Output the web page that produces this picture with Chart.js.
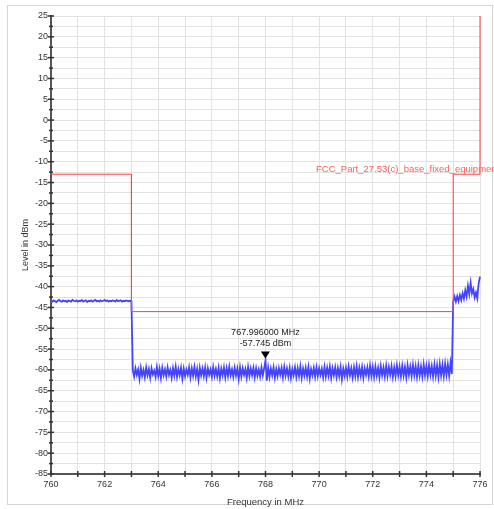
<!DOCTYPE html>
<html>
<head>
<meta charset="utf-8">
<script src="https://cdn.jsdelivr.net/npm/chart.js@4.4.1/dist/chart.umd.min.js"></script>
<style>
  html, body { margin: 0; padding: 0; background: #fff; }
  #wrap { width: 494px; height: 509px; position: relative; }
</style>
</head>
<body>
<div id="wrap"><canvas id="spectrum"></canvas></div>
<script>
// analyzer sweep grid (MHz)
const sweepStart = 760;
const sweepStep = 0.05;

// trace levels in dBm, 760.00 - 763.00 MHz
const levelsLowBand = [
    -43.4, -43.6, -43.3, -43.5, -43.7, -43.4, -43.2, -43.5, -43.6, -43.3,
    -43.5, -43.4, -43.7, -43.3, -43.5, -43.6, -43.2, -43.4, -43.5, -43.3,
    -43.6, -43.4, -43.5, -43.2, -43.6, -43.4, -43.3, -43.7, -43.4, -43.5,
    -43.3, -43.6, -43.4, -43.2, -43.5, -43.4, -43.6, -43.3, -43.5, -43.4,
    -43.2, -43.5, -43.3, -43.6, -43.4, -43.5, -43.3, -43.4, -43.6, -43.2,
    -43.5, -43.4, -43.3, -43.6, -43.4, -43.5, -43.3, -43.4, -43.5, -43.4,
    -43.5
];
// 763.05 - 774.95 MHz
const levelsInBand = [
    -60.1, -61.6, -59.6, -61.2, -59.9, -62.2, -59.5, -61.4, -60.0, -61.8,
    -59.4, -61.3, -59.8, -61.9, -59.6, -61.1, -60.2, -61.7, -59.3, -61.5,
    -59.7, -62.0, -59.5, -61.3, -59.9, -61.6, -59.4, -61.2, -60.0, -61.9,
    -59.6, -61.4, -59.2, -61.7, -59.8, -61.3, -59.5, -62.1, -59.7, -61.5,
    -59.9, -61.2, -59.4, -61.8, -59.6, -61.4, -59.3, -61.6, -59.8, -62.4,
    -59.5, -61.3, -59.7, -61.5, -59.4, -61.9, -59.6, -61.2, -59.9, -61.7,
    -59.3, -61.4, -59.8, -61.6, -59.5, -62.0, -59.7, -61.3, -59.4, -61.8,
    -59.6, -61.5, -59.2, -61.3, -59.9, -61.7, -59.5, -61.4, -59.7, -62.2,
    -59.4, -61.6, -59.6, -61.2, -59.8, -61.9, -59.3, -61.5, -59.7, -61.3,
    -59.5, -61.8, -59.6, -61.4, -59.9, -61.6, -59.4, -61.3, -59.6, -57.745,
    -62.6, -59.5, -61.7, -59.7, -61.3, -59.4, -61.9, -59.8, -61.5, -59.6,
    -61.2, -59.5, -61.8, -59.3, -61.4, -59.7, -61.6, -59.5, -62.0, -59.8,
    -61.3, -59.4, -61.7, -59.6, -61.5, -59.2, -61.9, -59.7, -61.4, -59.5,
    -61.6, -59.3, -62.1, -59.8, -61.3, -59.5, -61.7, -59.4, -61.5, -59.6,
    -61.2, -59.7, -61.8, -59.3, -61.6, -59.5, -61.4, -59.2, -61.9, -59.6,
    -61.3, -59.4, -61.7, -59.6, -61.5, -59.3, -62.2, -59.7, -61.4, -59.5,
    -61.6, -59.2, -61.3, -59.6, -61.8, -59.4, -61.5, -59.1, -61.7, -59.5,
    -61.4, -59.3, -61.9, -59.6, -61.2, -59.4, -61.6, -59.0, -61.5, -59.3,
    -61.7, -59.2, -61.4, -59.5, -61.8, -59.1, -61.3, -59.4, -61.6, -59.0,
    -61.5, -59.3, -61.2, -59.1, -61.7, -59.4, -61.5, -58.9, -61.3, -59.2,
    -61.6, -59.0, -61.4, -59.3, -61.8, -58.9, -61.2, -59.2, -61.5, -58.8,
    -61.3, -59.1, -61.7, -58.9, -61.4, -59.2, -61.6, -58.7, -61.3, -59.0,
    -61.5, -58.8, -61.2, -59.1, -61.6, -58.7, -61.4, -58.9, -61.7, -58.6,
    -61.3, -58.8, -61.5, -58.5, -61.2, -58.7, -61.4, -58.3, -61.0
];
// 775.00 - 776.00 MHz
const levelsHighBand = [
    -43.7, -42.4, -43.6, -42.3, -43.5, -42.0, -43.2, -41.6, -42.9, -40.9,
    -42.4, -39.8, -41.8, -39.1, -41.6, -40.6, -42.6, -41.4, -42.8, -39.2,
    -37.6
];

// limit line
const limitFreqs = [760, 763, 763, 775, 775, 776, 776];
const limitLevels = [-13, -13, -46, -46, -13, -13, 25];
const limitName = 'FCC_Part_27.53(c)_base_fixed_equipment';

// marker M1
const markerFreq = 767.996;
const markerLevel = -57.745;

// labelled ticks
const xLabelValues = [760, 762, 764, 766, 768, 770, 772, 774, 776];
const yLabelValues = [25, 20, 15, 10, 5, 0, -5, -10, -15, -20, -25, -30, -35, -40, -45, -50, -55, -60, -65, -70, -75, -80, -85];

const traceLevels = levelsLowBand.concat(levelsInBand, levelsHighBand);
const tracePoints = traceLevels.map((lvl, i) => ({ x: +(sweepStart + i * sweepStep).toFixed(2), y: lvl }));
const limitPoints = limitFreqs.map((f, i) => ({ x: f, y: limitLevels[i] }));

const FONT = '"Liberation Sans", Arial, sans-serif';
Chart.defaults.font.family = FONT;
Chart.defaults.color = '#333';

const decorations = {
    id: 'decorations',
    beforeDraw(chart) {
        const ctx = chart.ctx;
        ctx.save();
        ctx.strokeStyle = '#d6d6d6';
        ctx.lineWidth = 1;
        ctx.strokeRect(7.5, 5.5, 485, 499);
        ctx.restore();
    },
    afterDraw(chart) {
        const { ctx, chartArea, scales: { x, y } } = chart;
        ctx.save();
        ctx.strokeStyle = '#333';
        ctx.lineWidth = 1.5;
        // ticks crossing the axes
        y.ticks.forEach(t => {
            const py = y.getPixelForValue(t.value);
            const half = yLabelValues.includes(t.value) ? 3 : 2;
            ctx.beginPath();
            ctx.moveTo(chartArea.left - half, py);
            ctx.lineTo(chartArea.left + half, py);
            ctx.stroke();
        });
        x.ticks.forEach(t => {
            const px = x.getPixelForValue(t.value);
            ctx.beginPath();
            ctx.moveTo(px, chartArea.bottom - 3);
            ctx.lineTo(px, chartArea.bottom + 3);
            ctx.stroke();
        });

        // marker triangle + readout
        const mx = x.getPixelForValue(markerFreq);
        const my = y.getPixelForValue(markerLevel) - 2;
        ctx.fillStyle = '#000';
        ctx.beginPath();
        ctx.moveTo(mx, my);
        ctx.lineTo(mx - 4.5, my - 7);
        ctx.lineTo(mx + 4.5, my - 7);
        ctx.closePath();
        ctx.fill();
        ctx.font = '9px ' + FONT;
        ctx.textAlign = 'center';
        ctx.textBaseline = 'middle';
        ctx.fillStyle = '#222';
        ctx.fillText(markerFreq.toFixed(6) + ' MHz', mx, my - 26.5);
        ctx.fillText(markerLevel.toFixed(3) + ' dBm', mx, my - 15.5);

        // limit line name
        ctx.font = '9.5px ' + FONT;
        ctx.fillStyle = '#ff5c5c';
        ctx.textAlign = 'left';
        ctx.fillText(limitName, 316, y.getPixelForValue(limitLevels[4]) - 5);
        ctx.restore();
    }
};

new Chart(document.getElementById('spectrum'), {
    type: 'scatter',
    data: {
        datasets: [
            {
                label: 'Trace',
                data: tracePoints,
                showLine: true,
                borderColor: 'rgb(68, 68, 255)',
                borderWidth: 1.8,
                pointRadius: 0,
                clip: false,
                order: 2
            },
            {
                label: limitName,
                data: limitPoints,
                showLine: true,
                borderColor: 'rgb(255, 64, 64)',
                borderWidth: 1,
                pointRadius: 0,
                clip: false,
                order: 1
            }
        ]
    },
    options: {
        responsive: true,
        maintainAspectRatio: false,
        animation: false,
        layout: { padding: { left: 0, top: 16, right: 14, bottom: 0 } },
        plugins: { legend: { display: false }, tooltip: { enabled: false } },
        scales: {
            x: {
                type: 'linear',
                min: 760,
                max: 776,
                afterFit: s => { s.height = 35; },
                ticks: {
                    stepSize: 1,
                    padding: 5,
                    maxRotation: 0,
                    autoSkip: false,
                    font: { size: 9 },
                    callback: v => xLabelValues.includes(v) ? String(v) : ''
                },
                grid: { color: '#e2e2e2', drawTicks: false },
                border: { display: true, color: '#555', width: 2 },
                title: {
                    display: true,
                    text: 'Frequency in MHz',
                    font: { size: 9.5 },
                    color: '#333',
                    padding: { top: 0, bottom: 1 }
                }
            },
            y: {
                min: -85,
                max: 25,
                afterFit: s => { s.width = 51; },
                ticks: {
                    stepSize: 2.5,
                    padding: 3,
                    autoSkip: false,
                    font: { size: 9 },
                    callback: v => yLabelValues.includes(v) ? String(v) : ''
                },
                grid: { color: '#e2e2e2', drawTicks: false },
                border: { display: true, color: '#555', width: 2 },
                title: {
                    display: true,
                    text: 'Level in dBm',
                    font: { size: 9 },
                    color: '#333',
                    padding: { top: 20, bottom: 0 }
                }
            }
        }
    },
    plugins: [decorations]
});
</script>
</body>
</html>
